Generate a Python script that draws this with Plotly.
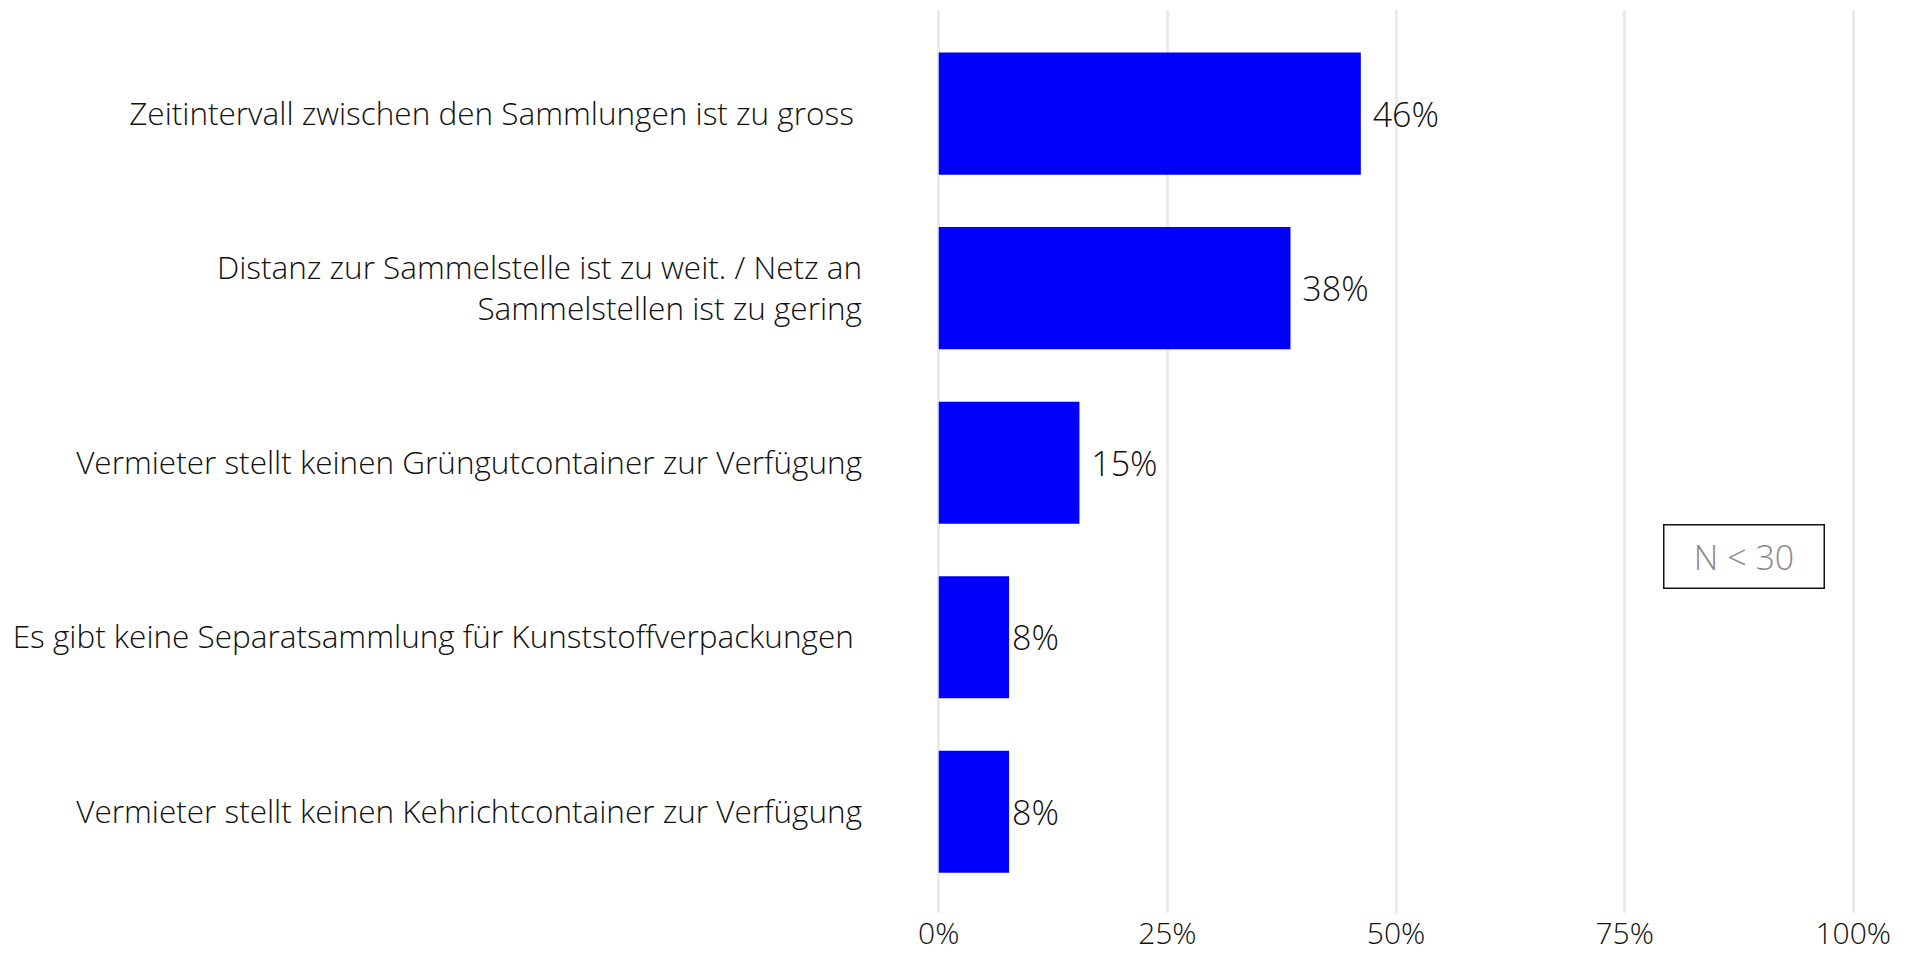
import plotly.graph_objects as go

categories = [
    "Zeitintervall zwischen den Sammlungen ist zu gross\u00a0",
    "Distanz zur Sammelstelle ist zu weit. / Netz an<br>Sammelstellen ist zu gering",
    "Vermieter stellt keinen Grüngutcontainer zur Verfügung",
    "Es gibt keine Separatsammlung für Kunststoffverpackungen\u00a0",
    "Vermieter stellt keinen Kehrichtcontainer zur Verfügung",
]
values = [6 / 13, 5 / 13, 2 / 13, 1 / 13, 1 / 13]
value_labels = ["\u00a046%", "\u00a038%", "\u00a015%", "8%", "8%"]
x_ticks = [0, 0.25, 0.5, 0.75, 1.0]
x_tick_labels = ["0%", "25%", "50%", "75%", "100%"]
note_text = "N < 30"

FONT = "Open Sans"
TXT = "#111111"

fig = go.Figure(
    go.Bar(
        x=values,
        y=categories,
        orientation="h",
        marker=dict(color="#0000FF", line=dict(width=0)),
        width=0.7,
        text=value_labels,
        textposition="outside",
        textfont=dict(family=FONT, size=34, color=TXT, weight=300),
        cliponaxis=False,
    )
)

fig.update_layout(
    width=1909,
    height=947,
    paper_bgcolor="white",
    plot_bgcolor="white",
    margin=dict(l=885, r=18, t=2, b=42),
    showlegend=False,
    font=dict(family=FONT, size=31.5, color=TXT, weight=300),
    xaxis=dict(
        range=[-0.05, 1.05],
        tickvals=x_ticks,
        ticktext=x_tick_labels,
        showgrid=True,
        gridcolor="#ebebeb",
        gridwidth=2.5,
        zeroline=False,
        showline=False,
        ticks="",
        automargin=False,
        tickfont=dict(family=FONT, size=30, color=TXT, weight=300),
    ),
    yaxis=dict(
        categoryorder="array",
        categoryarray=categories,
        autorange=False,
        range=[4.58, -0.594],
        showgrid=False,
        zeroline=False,
        showline=False,
        ticks="",
        automargin=False,
        ticklabelstandoff=30,
        tickfont=dict(family=FONT, size=31.5, color=TXT, weight=300),
    ),
    annotations=[
        dict(
            text=note_text,
            xref="paper",
            yref="paper",
            x=0.846,
            y=0.395,
            xanchor="center",
            yanchor="middle",
            showarrow=False,
            font=dict(family=FONT, size=34, color="#8a8a8a", weight=300),
            bordercolor="#111111",
            borderwidth=1.5,
            borderpad=1,
            width=157,
            height=60,
            bgcolor="white",
        )
    ],
)

fig.write_html("out.html")
